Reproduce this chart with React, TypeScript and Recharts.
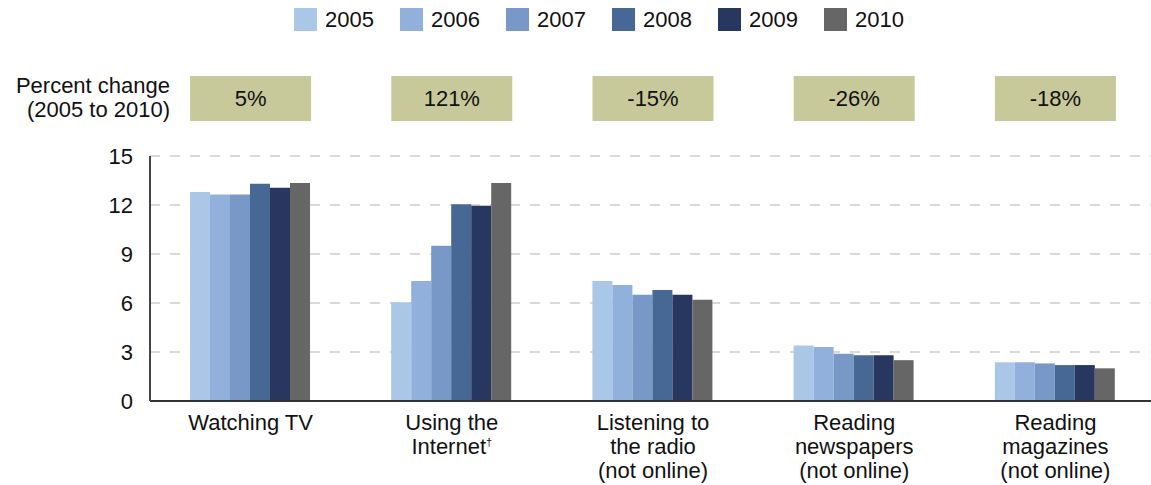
import React from "react";
import { BarChart, Bar, XAxis, YAxis, CartesianGrid } from "recharts";

const categories = [
  "Watching TV",
  "Using the\nInternet†",
  "Listening to\nthe radio\n(not online)",
  "Reading\nnewspapers\n(not online)",
  "Reading\nmagazines\n(not online)",
];
const years = ["2005", "2006", "2007", "2008", "2009", "2010"];
const colors = ["#abc7e7", "#91b1dc", "#7899c8", "#476795", "#283760", "#666666"];

const values2005 = [12.8, 6.05, 7.35, 3.4, 2.37];
const values2006 = [12.65, 7.35, 7.1, 3.3, 2.37];
const values2007 = [12.65, 9.5, 6.5, 2.9, 2.3];
const values2008 = [13.3, 12.05, 6.8, 2.8, 2.2];
const values2009 = [13.05, 11.95, 6.5, 2.8, 2.2];
const values2010 = [13.35, 13.35, 6.2, 2.5, 2.0];
const seriesValues = [values2005, values2006, values2007, values2008, values2009, values2010];

const pctChange = ["5%", "121%", "-15%", "-26%", "-18%"];
const yTicks = [0, 3, 6, 9, 12, 15];

const FONT = "'Liberation Sans', Arial, sans-serif";

const data = categories.map((name, i) => {
  const row: Record<string, string | number> = { name };
  years.forEach((y, k) => {
    row["y" + y] = seriesValues[k][i];
  });
  return row;
});

function CategoryTick(props: any) {
  const { x, y, payload } = props;
  const lines = String(payload.value).split("\n");
  return (
    <g>
      {lines.map((line, i) => {
        const dagger = line.endsWith("†");
        const txt = dagger ? line.slice(0, -1) : line;
        return (
          <text
            key={i}
            x={x}
            y={y + 27 + i * 24}
            textAnchor="middle"
            fontFamily={FONT}
            fontSize={22}
            fill="#111"
          >
            {txt}
            {dagger && (
              <tspan fontSize={11} dy={-8}>
                †
              </tspan>
            )}
          </text>
        );
      })}
    </g>
  );
}

function PctTick(props: any) {
  const { x, payload } = props;
  const label = pctChange[payload.index];
  return (
    <g>
      <rect x={x - 60.5} y={76} width={121} height={45} fill="#c8c99b" />
      <text x={x} y={106} textAnchor="middle" fontFamily={FONT} fontSize={22} fill="#111">
        {label}
      </text>
    </g>
  );
}

export default function App() {
  return (
    <div
      style={{
        position: "absolute",
        left: 0,
        top: 0,
        width: 1151,
        height: 485,
        overflow: "hidden",
        background: "#fff",
        fontFamily: FONT,
      }}
    >
      <div style={{ position: "absolute", left: 294, top: 8, display: "flex" }}>
        {years.map((y, k) => (
          <div key={y} style={{ width: 106, display: "flex", alignItems: "center", height: 23 }}>
            <div style={{ width: 23, height: 23, background: colors[k], marginRight: 8 }} />
            <span style={{ fontSize: 22, color: "#111", lineHeight: "23px" }}>{y}</span>
          </div>
        ))}
      </div>
      <div
        style={{
          position: "absolute",
          right: 1151 - 170,
          top: 74,
          textAlign: "right",
          fontSize: 22,
          lineHeight: "24px",
          color: "#111",
          whiteSpace: "nowrap",
        }}
      >
        Percent change
        <br />
        (2005 to 2010)
      </div>
      <BarChart
        width={1156}
        height={485}
        data={data}
        margin={{ top: 66, right: 0, bottom: 0, left: 0 }}
        barCategoryGap={40}
        barGap={0}
        style={{ position: "absolute", left: 0, top: 0 }}
      >
        <CartesianGrid
          vertical={false}
          stroke="#d9d9d9"
          strokeWidth={2}
          strokeDasharray="10 10"
        />
        <XAxis
          dataKey="name"
          xAxisId="pct"
          orientation="top"
          height={90}
          axisLine={false}
          tickLine={false}
          interval={0}
          tick={<PctTick />}
        />
        <XAxis
          dataKey="name"
          height={84}
          axisLine={{ stroke: "#333", strokeWidth: 2 }}
          tickLine={false}
          tickSize={0}
          interval={0}
          tick={<CategoryTick />}
        />
        <YAxis
          width={150}
          domain={[0, 15]}
          ticks={yTicks}
          axisLine={{ stroke: "#444", strokeWidth: 2 }}
          tickLine={false}
          tickSize={0}
          tickMargin={17}
          tick={{ fontFamily: FONT, fontSize: 22, fill: "#111" }}
        />
        {years.map((y, k) => (
          <Bar key={y} dataKey={"y" + y} fill={colors[k]} isAnimationActive={false} />
        ))}
      </BarChart>
    </div>
  );
}
